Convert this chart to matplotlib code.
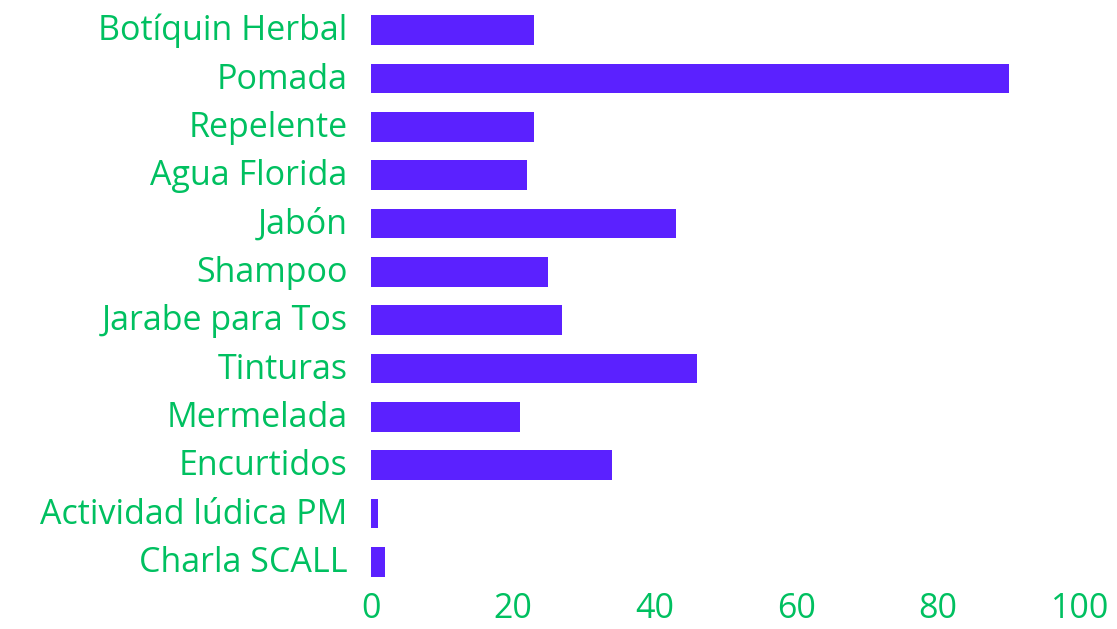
import matplotlib
matplotlib.use("Agg")
import matplotlib.pyplot as plt
import matplotlib.transforms as mtransforms

categories = ["Botíquin Herbal", "Pomada", "Repelente", "Agua Florida", "Jabón",
              "Shampoo", "Jarabe para Tos", "Tinturas", "Mermelada", "Encurtidos",
              "Actividad lúdica PM", "Charla SCALL"]
values = [23, 90, 23, 22, 43, 25, 27, 46, 21, 34, 1, 2]
x_ticks = [0, 20, 40, 60, 80, 100]

bar_color = "#5b21ff"
text_color = "#00c060"

plt.rcParams['font.family'] = ['Open Sans', 'DejaVu Sans']

fig = plt.figure(figsize=(11.17, 6.29), dpi=100)
ax = fig.add_axes([371/1117, 1 - 586/629, (1080-371)/1117, (586-6)/629])

ypos = list(range(len(categories)))
ax.barh(ypos, values, height=0.62, color=bar_color)
ax.set_ylim(len(categories) - 0.5, -0.5)
ax.set_xlim(0, 100)
ax.set_yticks(ypos)
ax.set_yticklabels(categories)
ax.set_xticks(x_ticks)
ax.set_xticklabels([str(t) for t in x_ticks])
ax.tick_params(axis='both', length=0, labelsize=24.5, colors=text_color)
ax.tick_params(axis='y', pad=17)
ax.tick_params(axis='x', pad=4)
offset = mtransforms.ScaledTranslation(0, 3/100, fig.dpi_scale_trans)
for lbl in ax.get_yticklabels():
    lbl.set_transform(lbl.get_transform() + offset)
for s in ax.spines.values():
    s.set_visible(False)

fig.savefig("out.png", dpi=100)
